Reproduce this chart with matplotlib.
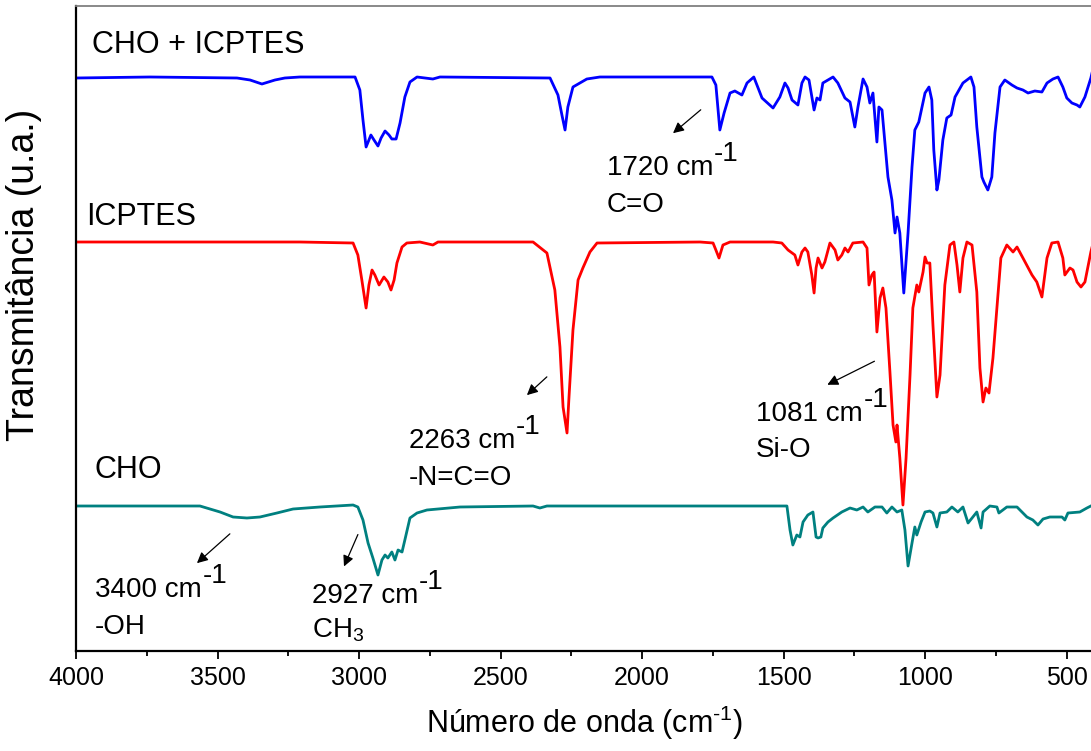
# -*- coding: utf-8 -*-
from matplotlib import pyplot as plt
from matplotlib.ticker import MultipleLocator

# FTIR spectra (wavenumber in cm-1, transmittance in arbitrary units, offset)
cho_icptes_x = [4000, 3739, 3431, 3385, 3343, 3297, 3262, 3209, 3014, 2997, 2986, 2975, 2965,
                2958, 2947, 2933, 2922, 2908, 2894, 2884, 2869, 2855, 2838, 2820, 2795, 2739,
                2714, 2325, 2297, 2283, 2272, 2262, 2244, 2195, 2149, 1753, 1739, 1725, 1710,
                1689, 1672, 1647, 1629, 1605, 1576, 1537, 1513, 1495, 1484, 1470, 1449, 1435,
                1424, 1410, 1392, 1382, 1371, 1361, 1325, 1308, 1283, 1265, 1248, 1237, 1219,
                1205, 1195, 1184, 1170, 1163, 1152, 1131, 1117, 1106, 1099, 1089, 1075, 1060,
                1046, 1036, 1022, 1000, 986, 976, 969, 958, 951, 937, 923, 908, 894, 884, 866,
                838, 827, 817, 799, 792, 778, 764, 753, 735, 718, 693, 675, 654, 636, 612, 587,
                569, 548, 530, 513, 499, 481, 463, 453, 435, 414, 400]
cho_icptes_y = [573, 574, 573, 571, 567, 571, 573, 574, 574, 561, 531, 504, 511,
                516, 511, 505, 513, 520, 516, 512, 512, 528, 554, 569, 574, 572,
                574, 573, 556, 536, 521, 544, 564, 572, 574, 574, 566, 521, 538,
                558, 560, 556, 568, 574, 553, 543, 554, 568, 563, 551, 546, 568,
                574, 571, 541, 553, 551, 568, 574, 568, 553, 549, 524, 544, 572,
                564, 548, 558, 509, 544, 541, 474, 451, 418, 434, 418, 358, 418,
                484, 521, 529, 558, 564, 551, 501, 461, 471, 511, 533, 536, 554, 559, 568,
                574, 564, 524, 474, 469, 461, 474, 518, 564, 571, 566, 563, 561, 558, 560, 559,
                568, 572, 574, 564, 553, 548, 546, 544, 554, 573, 590]

icptes_x = [4000, 3209, 3021, 3004, 2990, 2975, 2965, 2954, 2944, 2929, 2912, 2898, 2887,
            2876, 2866, 2848, 2831, 2785, 2739, 2721, 2385, 2336, 2308, 2290, 2279, 2265,
            2258, 2244, 2226, 2209, 2184, 2159, 1795, 1749, 1739, 1728, 1714, 1689, 1537,
            1506, 1484, 1460, 1449, 1435, 1424, 1414, 1400, 1392, 1385, 1378, 1364, 1354,
            1336, 1318, 1308, 1294, 1283, 1272, 1255, 1219, 1205, 1198, 1188, 1180, 1170,
            1159, 1149, 1138, 1124, 1113, 1103, 1099, 1089, 1078, 1067, 1053, 1043, 1029,
            1022, 1007, 1000, 993, 983, 972, 958, 947, 930, 912, 898, 887, 877, 866, 852,
            834, 817, 806, 795, 785, 774, 760, 746, 732, 711, 689, 675, 654, 622, 605, 587,
            569, 552, 530, 513, 506, 488, 477, 463, 449, 435, 414, 400]
icptes_y = [409, 409, 408, 396, 371, 343, 366, 381, 376, 366, 374, 369, 361,
            371, 388, 404, 408, 409, 406, 409, 409, 398, 361, 304, 244, 218,
            254, 321, 371, 383, 399, 408, 409, 408, 401, 393, 406, 409, 409,
            408, 401, 396, 386, 399, 403, 399, 376, 358, 383, 393, 383, 389,
            408, 401, 391, 396, 403, 399, 408, 409, 403, 366, 376, 379, 319,
            353, 363, 343, 279, 226, 209, 226, 193, 146, 193, 276, 343, 366,
            359, 379, 394, 388, 388, 326, 254, 276, 366, 406, 409, 386, 359, 393, 409,
            406, 359, 283, 249, 263, 258, 293, 343, 393, 406, 399, 404, 393, 376, 369, 354,
            393, 408, 409, 393, 376, 383, 381, 369, 364, 369, 399, 415]

cho_x = [4000, 3562, 3491, 3445, 3396, 3350, 3290, 3233, 3138, 3021, 3004, 2986, 2968,
         2951, 2933, 2919, 2908, 2898, 2884, 2873, 2862, 2848, 2838, 2820, 2795, 2760,
         2643, 2385, 2361, 2336, 1488, 1477, 1467, 1453, 1442, 1431, 1414, 1396, 1385,
         1378, 1368, 1361, 1343, 1325, 1294, 1265, 1241, 1219, 1202, 1177, 1152, 1135,
         1117, 1099, 1082, 1071, 1060, 1046, 1036, 1029, 1014, 1000, 983, 972, 958, 947,
         923, 905, 884, 866, 848, 831, 817, 802, 795, 771, 746, 739, 711, 675, 640, 619,
         601, 583, 559, 516, 506, 495, 453, 428, 414, 400]
cho_y = [145, 145, 139, 134, 133, 134, 138, 142, 144, 146, 144, 131, 108,
         93, 76, 91, 96, 93, 99, 91, 101, 99, 111, 133, 138, 141,
         144, 145, 143, 145, 145, 121, 106, 116, 114, 129, 136, 139, 114,
         113, 114, 123, 129, 133, 139, 143, 141, 144, 139, 144, 144, 138,
         144, 139, 141, 121, 85, 108, 124, 116, 129, 139, 140, 138, 124, 138,
         139, 144, 139, 144, 128, 134, 139, 123, 139, 145, 144, 138, 144, 144, 134, 131,
         126, 132, 134, 134, 131, 138, 139, 143, 145, 147]

series_labels = ["CHO + ICPTES", "ICPTES", "CHO"]
xticks = [4000, 3500, 3000, 2500, 2000, 1500, 1000, 500]

plt.rcParams['font.family'] = ['Liberation Sans', 'DejaVu Sans']
plt.rcParams['mathtext.fontset'] = 'custom'
plt.rcParams['mathtext.rm'] = 'Liberation Sans'

fig = plt.figure(figsize=(10.91, 7.51), dpi=100)
ax = fig.add_axes([76 / 1091, 100 / 751, 1016 / 1091, 645 / 751])

ax.plot(cho_icptes_x, cho_icptes_y, color='#0000ff', lw=2.0)
ax.plot(icptes_x, icptes_y, color='#ff0000', lw=2.0)
ax.plot(cho_x, cho_y, color='#008080', lw=2.0)

ax.set_xlim(4000, 410)
ax.set_ylim(0, 645)
ax.set_xticks(xticks)
ax.xaxis.set_minor_locator(MultipleLocator(250))
ax.set_yticks([])
ax.tick_params(axis='x', which='major', direction='out', length=6, width=1.3, pad=5,
               labelsize=18)
ax.tick_params(axis='x', which='minor', direction='out', length=3.5, width=1.3)

ax.spines['right'].set_visible(False)
ax.spines['left'].set_linewidth(1.6)
ax.spines['bottom'].set_linewidth(1.6)
ax.spines['top'].set_color('#808080')
ax.spines['top'].set_linewidth(1.3)

ax.set_xlabel('Número de onda (cm$^{\\text{-}1}$)', fontsize=22, labelpad=10)
ax.set_ylabel('Transmitância (u.a.)', fontsize=27)
ax.yaxis.set_label_coords(-0.033, 0.583)

# series labels
ax.text(3943, 598, series_labels[0], fontsize=22, va='baseline')
ax.text(3965, 426, series_labels[1], fontsize=22, va='baseline')
ax.text(3933, 173, series_labels[2], fontsize=22, va='baseline')

# peak annotations: text, x, baseline y, second line, its baseline y, arrow tail, arrow head
notes = [
    ('1720 cm', 2124, 476, 'C=O', 439, (1785, 543), (1898, 516)),
    ('2263 cm', 2823, 203, '-N=C=O', 166, (2329, 276), (2414, 254)),
    ('1081 cm', 1597, 230, 'Si-O', 194, (1170, 291), (1354, 265)),
    ('3400 cm', 3933, 54, '-OH', 17, (3449, 119), (3580, 86)),
    ('2927 cm', 3166, 48, 'CH$_\\mathregular{3}$', 14, (3000, 119), (3057, 82)),
]
for txt, tx, ty, line2, ly, tail, head in notes:
    t = ax.text(tx, ty, txt, fontsize=20, va='baseline')
    ax.annotate('-1', xy=(1, 0), xycoords=t, xytext=(0.5, 14.5),
                textcoords='offset points', fontsize=20, va='baseline', ha='left')
    ax.text(tx, ly, line2, fontsize=20, va='baseline')
    ax.annotate('', xy=head, xytext=tail,
                arrowprops=dict(arrowstyle='-|>', color='k', lw=0.9, mutation_scale=16))

fig.savefig('out.png', dpi=100)
